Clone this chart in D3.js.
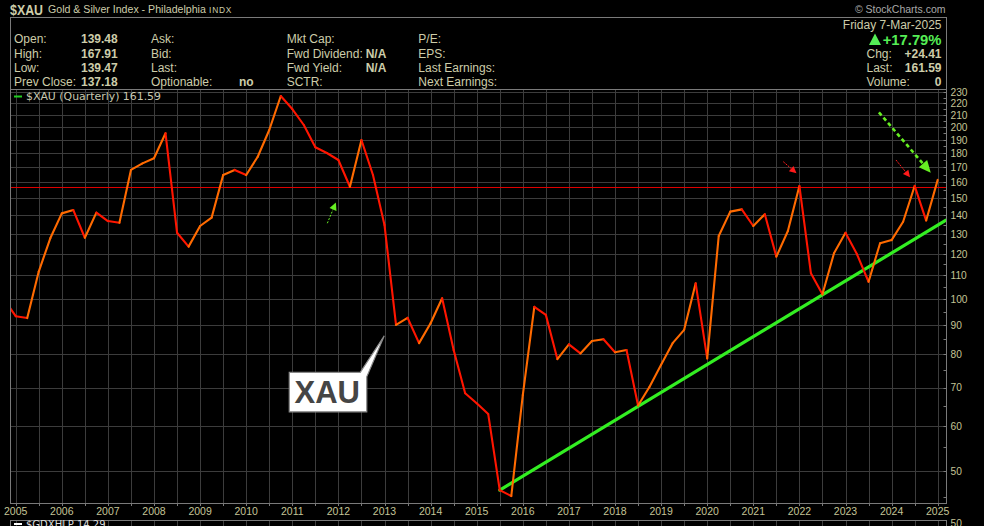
<!DOCTYPE html>
<html><head><meta charset="utf-8">
<script src="https://cdn.jsdelivr.net/npm/d3@7"></script>
<style>
html,body{margin:0;padding:0;background:#000;overflow:hidden;}
svg{display:block;}
</style></head><body>
<svg id="c" width="984" height="526"></svg>
<script>
// ---------------- DATA ----------------
// Quarterly closes of $XAU, first value = Q4 2004 (quarter index -1), Q1 2005 = index 0
const firstQuarterIndex = -1;
const closes = [
  99.8,
  93.3, 92.6, 111.7, 127.7,      // 2005
  141.2, 143.1, 128.0, 141.6,    // 2006
  136.9, 136.0, 168.2, 172.7,    // 2007
  176.3, 195.0, 130.6, 123.5,    // 2008
  134.2, 138.8, 164.8, 168.2,    // 2009
  164.8, 177.4, 197.6, 226.6,    // 2010
  215.0, 201.6, 184.3, 180.1,    // 2011
  175.1, 157.2, 189.8, 164.8,    // 2012
  134.7, 90.1, 92.7, 83.7,       // 2013
  90.7, 100.3, 81.4, 68.4,       // 2014
  65.7, 62.9, 46.3, 45.2,        // 2015
  67.9, 96.9, 93.8, 78.5,        // 2016
  83.3, 80.3, 84.4, 85.0,        // 2017
  80.7, 81.4, 65.1, 70.2,        // 2018
  76.7, 83.7, 88.3, 106.5,       // 2019
  78.7, 128.9, 142.2, 143.5,     // 2020
  134.2, 140.7, 118.6, 131.5,    // 2021
  157.7, 110.9, 101.9, 120.2,    // 2022
  130.6, 119.7, 107.2, 125.2,    // 2023
  126.8, 136.5, 157.7, 137.18,   // 2024
  161.59                         // 2025 Q1 (partial)
];
const yearLabels = ["2005","2006","2007","2008","2009","2010","2011","2012","2013","2014","2015",
                    "2016","2017","2018","2019","2020","2021","2022","2023","2024","2025"];
const yTickValues = [50,60,70,80,90,100,110,120,130,140,150,160,170,180,190,200,210,220,230];
const resistanceLevel = 157.0;
// trendline anchors: [quarter index, value]
const trendline = [[42, 46.3], [80.72, 137.4]];
// annotation arrows in data coords: [q0, v0, q1, v1]
const greenSmallArrow = [27.04, 135.7, 27.78, 147.5];
const redArrows = [[66.6, 173.9, 67.75, 166.0], [76.38, 175.1, 77.6, 163.3]];
const greenBigArrow = [74.9, 212.2, 79.4, 166.3];
const calloutTip = [31.98, 86.2];

const headerLeft = [
  ["Open:", "139.48"], ["High:", "167.91"], ["Low:", "139.47"], ["Prev Close:", "137.18"]
];
const headerCol2 = [["Ask:", ""], ["Bid:", ""], ["Last:", ""], ["Optionable:", "no"]];
const headerCol3 = [["Mkt Cap:", ""], ["Fwd Dividend:", "N/A"], ["Fwd Yield:", "N/A"], ["SCTR:", ""]];
const headerCol4 = ["P/E:", "EPS:", "Last Earnings:", "Next Earnings:"];
const headerRight = [["Chg:", "+24.41"], ["Last:", "161.59"], ["Volume:", "0"]];

// ---------------- DRAW ----------------
const svg = d3.select("#c");
const P = {left: 11, right: 946.5, top: 89.5, bottom: 503.5};
const TXT = "#cdcdaa", AX = "#c4c496", GRID = "#3c3c3c", BORDER = "#7a7a7a";
const FONT = "'Liberation Sans', Arial, sans-serif";

svg.append("rect").attr("width", 984).attr("height", 526).attr("fill", "#000");

const x = d3.scaleLinear().domain([0, 80]).range([15.7, 937.7]);
const y = d3.scaleLog().domain([50, 230]).range([471, 92.3]);

const data = closes.map((v, i) => ({q: i + firstQuarterIndex, v}));

svg.append("defs").append("clipPath").attr("id", "plotclip")
  .append("rect").attr("x", P.left).attr("y", P.top)
  .attr("width", P.right - P.left).attr("height", P.bottom - P.top);

// grid
const grid = svg.append("g");
const vq = d3.range(0, 81, 2);
grid.selectAll("line.v").data(vq).join("line")
  .attr("x1", d => Math.round(x(d)) + 0.5).attr("x2", d => Math.round(x(d)) + 0.5)
  .attr("y1", P.top).attr("y2", P.bottom)
  .attr("stroke", GRID).attr("stroke-width", 1);
grid.selectAll("line.h").data(yTickValues).join("line")
  .attr("x1", P.left).attr("x2", P.right)
  .attr("y1", d => Math.round(y(d)) + 0.5).attr("y2", d => Math.round(y(d)) + 0.5)
  .attr("stroke", GRID).attr("stroke-width", 1);

// bottom panel grid (partial)
svg.selectAll("line.bv").data(vq).join("line")
  .attr("x1", d => Math.round(x(d)) + 0.5).attr("x2", d => Math.round(x(d)) + 0.5)
  .attr("y1", 521).attr("y2", 526)
  .attr("stroke", GRID);

const plotG = svg.append("g").attr("clip-path", "url(#plotclip)");

// resistance line
const ry = Math.round(y(resistanceLevel)) + 0.5;
plotG.append("line")
  .attr("x1", P.left).attr("x2", P.right)
  .attr("y1", ry).attr("y2", ry)
  .attr("stroke", "#e00000").attr("stroke-width", 1);

// trendline
plotG.append("line")
  .attr("x1", x(trendline[0][0])).attr("y1", y(trendline[0][1]))
  .attr("x2", x(trendline[1][0])).attr("y2", y(trendline[1][1]))
  .attr("stroke", "#33ee22").attr("stroke-width", 3.2).attr("stroke-linecap", "round");

// price line, coloured by direction
const segs = d3.pairs(data);
plotG.selectAll("line.seg").data(segs).join("line")
  .attr("x1", d => x(d[0].q)).attr("y1", d => y(d[0].v))
  .attr("x2", d => x(d[1].q)).attr("y2", d => y(d[1].v))
  .attr("stroke", d => d[1].v >= d[0].v ? "#ff6a00" : "#ff1500")
  .attr("stroke-width", 2.1).attr("stroke-linecap", "round");

// arrows
function arrow(g, a, color, width, dash, headLen, headW) {
  const x0 = x(a[0]), y0 = y(a[1]), x1 = x(a[2]), y1 = y(a[3]);
  const ang = Math.atan2(y1 - y0, x1 - x0);
  const bx = x1 - headLen * Math.cos(ang), by = y1 - headLen * Math.sin(ang);
  g.append("line").attr("x1", x0).attr("y1", y0).attr("x2", bx).attr("y2", by)
    .attr("stroke", color).attr("stroke-width", width).attr("stroke-dasharray", dash);
  const px = -Math.sin(ang) * headW / 2, py = Math.cos(ang) * headW / 2;
  g.append("path")
    .attr("d", `M${x1},${y1}L${bx + px},${by + py}L${bx - px},${by - py}Z`)
    .attr("fill", color);
}
arrow(plotG, greenSmallArrow, "#66ee22", 1, "2,1.5", 7.5, 7.5);
redArrows.forEach(a => arrow(plotG, a, "#ff1a1a", 1, "2,1", 7, 7));
arrow(plotG, greenBigArrow, "#66ee22", 2.6, "4,3", 12, 11);

// callout
const tx = x(calloutTip[0]), ty = y(calloutTip[1]);
const bx0 = tx - 95, by0 = ty + 36.5, bw = 77.5, bh = 39.5;
const cg = plotG.append("g");
cg.append("path")
  .attr("d", `M${bx0},${by0}H${tx - 24}L${tx},${ty}L${tx - 17.5},${by0 + 4.5}V${by0 + bh}H${bx0}Z`)
  .attr("fill", "#fff").attr("stroke", "#8a8a8a").attr("stroke-width", 1.2);
cg.append("text").attr("x", bx0 + 38).attr("y", by0 + 30.5)
  .attr("text-anchor", "middle")
  .attr("font-family", FONT).attr("font-weight", "bold").attr("font-size", 31)
  .attr("fill", "#454545").text("XAU");

// plot border
svg.append("rect").attr("x", P.left - 0.5).attr("y", P.top)
  .attr("width", P.right - P.left + 0.5).attr("height", P.bottom - P.top)
  .attr("fill", "none").attr("stroke", BORDER).attr("stroke-width", 1);

// right axis ticks
const minor = d3.range(45, 231, 5);
svg.selectAll("line.mt").data(minor).join("line")
  .attr("x1", P.right - 3).attr("x2", P.right)
  .attr("y1", d => Math.round(y(d)) + 0.5).attr("y2", d => Math.round(y(d)) + 0.5)
  .attr("stroke", BORDER);
svg.selectAll("text.yl").data(yTickValues).join("text")
  .attr("x", 950.5).attr("y", d => y(d) + 3.8)
  .attr("font-family", FONT).attr("font-size", 10.2).attr("fill", AX)
  .text(d => d);

// bottom axis ticks + labels
svg.selectAll("line.bt").data(vq).join("line")
  .attr("x1", d => Math.round(x(d)) + 0.5).attr("x2", d => Math.round(x(d)) + 0.5)
  .attr("y1", P.bottom).attr("y2", P.bottom + 2.5)
  .attr("stroke", BORDER);
svg.selectAll("text.xl").data(yearLabels).join("text")
  .attr("x", (d, i) => x(i * 4)).attr("y", 514.5)
  .attr("text-anchor", "middle")
  .attr("font-family", FONT).attr("font-size", 10.5).attr("fill", AX)
  .text(d => d);

// legend
svg.append("line").attr("x1", 14).attr("x2", 22).attr("y1", 96.5).attr("y2", 96.5)
  .attr("stroke", "#22cc22").attr("stroke-width", 2);
svg.append("text").attr("x", 26).attr("y", 100.2)
  .attr("font-family", "'DejaVu Sans', Verdana, sans-serif").attr("font-size", 10.4)
  .attr("textLength", 135).attr("lengthAdjust", "spacingAndGlyphs")
  .attr("fill", "#c8c8b0").text("$XAU (Quarterly) " + closes[closes.length - 1].toFixed(2));

// bottom panel
svg.append("rect").attr("x", P.left - 0.5).attr("y", 520.5)
  .attr("width", P.right - P.left + 0.5).attr("height", 20)
  .attr("fill", "none").attr("stroke", BORDER);
svg.append("line").attr("x1", 14).attr("x2", 22).attr("y1", 524).attr("y2", 524)
  .attr("stroke", "#fff").attr("stroke-width", 2);
svg.append("text").attr("x", 26).attr("y", 527.5)
  .attr("font-family", "'DejaVu Sans', Verdana, sans-serif").attr("font-size", 10)
  .attr("fill", "#ddd").text("$GDXHLP 14.29");
svg.append("text").attr("x", 950.5).attr("y", 527.3)
  .attr("font-family", FONT).attr("font-size", 10.2).attr("fill", AX).text("50");

// ---------------- HEADER ----------------
svg.append("text").attr("x", 10).attr("y", 14.5)
  .attr("font-family", FONT).attr("font-weight", "bold").attr("font-size", 14.5)
  .attr("textLength", 33).attr("lengthAdjust", "spacingAndGlyphs")
  .attr("fill", TXT).text("$XAU");
svg.append("text").attr("x", 48).attr("y", 13)
  .attr("font-family", FONT).attr("font-size", 10.6)
  .attr("fill", TXT).text("Gold & Silver Index - Philadelphia");
svg.append("text").attr("x", 209).attr("y", 12.8)
  .attr("font-family", FONT).attr("font-size", 8.4).attr("letter-spacing", 0.8)
  .attr("fill", TXT).text("INDX");
svg.append("text").attr("x", 945.5).attr("y", 13)
  .attr("text-anchor", "end")
  .attr("font-family", FONT).attr("font-size", 10.5)
  .attr("fill", "#a8a8a8").text("© StockCharts.com");

svg.append("rect").attr("x", 10.5).attr("y", 17.5).attr("width", 936).attr("height", 72)
  .attr("fill", "none").attr("stroke", BORDER);

const rowY = [43.3, 57.6, 72, 86.3];
const hf = 12;
function htext(xp, yp, t, bold, anchor) {
  svg.append("text").attr("x", xp).attr("y", yp)
    .attr("font-family", FONT).attr("font-size", hf)
    .attr("font-weight", bold ? "bold" : "normal")
    .attr("text-anchor", anchor || "start")
    .attr("fill", TXT).text(t);
}
headerLeft.forEach((r, i) => { htext(14, rowY[i], r[0]); htext(81, rowY[i], r[1], true); });
headerCol2.forEach((r, i) => { htext(151, rowY[i], r[0]); if (r[1]) htext(239, rowY[i], r[1], true); });
headerCol3.forEach((r, i) => { htext(286.7, rowY[i], r[0]); if (r[1]) htext(365.7, rowY[i], r[1], true); });
headerCol4.forEach((t, i) => htext(418.3, rowY[i], t));

htext(941.5, 28.6, "Friday  7-Mar-2025", false, "end");
svg.append("path").attr("d", "M869,45L875,33.5L881,45Z").attr("fill", "#55ee55");
svg.append("text").attr("x", 941.5).attr("y", 44.5).attr("text-anchor", "end")
  .attr("font-family", FONT).attr("font-weight", "bold").attr("font-size", 14.8)
  .attr("fill", "#55ee55").text("+17.79%");
headerRight.forEach((r, i) => {
  htext(866.5, rowY[i + 1], r[0]);
  htext(941.5, rowY[i + 1], r[1], true, "end");
});
</script>
</body></html>
